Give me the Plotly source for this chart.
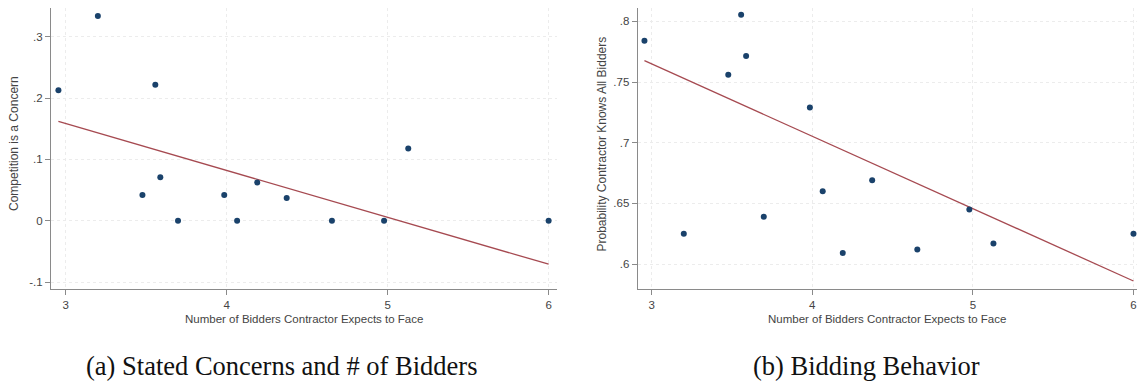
import plotly.graph_objects as go

# Binned means: expected number of bidders (x) against outcomes
bidders = [2.955, 3.20, 3.477, 3.557, 3.588, 3.698, 3.985, 4.065, 4.19, 4.373, 4.654, 4.978, 5.128, 6.0]
concern = [0.213, 0.334, 0.042, 0.222, 0.071, 0.0, 0.042, 0.0, 0.0625, 0.037, 0.0, 0.0, 0.118, 0.0]
knows_all = [0.784, 0.625, 0.756, 0.8055, 0.7715, 0.639, 0.729, 0.660, 0.609, 0.669, 0.612, 0.645, 0.617, 0.625]

# Linear fit endpoints
fit_x = [2.955, 6.0]
fit_concern = [0.162, -0.071]
fit_knows = [0.7676, 0.586]

x_ticks = [3, 4, 5, 6]
x_ticklabels = ["3", "4", "5", "6"]
y1_ticks = [-0.1, 0, 0.1, 0.2, 0.3]
y1_ticklabels = ["-.1", "0", ".1", ".2", ".3"]
y2_ticks = [0.6, 0.65, 0.7, 0.75, 0.8]
y2_ticklabels = [".6", ".65", ".7", ".75", ".8"]

x_title = "Number of Bidders Contractor Expects to Face"
y1_title = "Competition is a Concern"
y2_title = "Probability Contractor Knows All Bidders"
captions = ["(a) Stated Concerns and # of Bidders", "(b) Bidding Behavior"]

W, H = 1137, 385
navy = "#1a426b"
maroon = "#a64a51"
axis_col = "#8a8a8a"
grid_col = "#ececec"
tick_font = dict(family="Liberation Sans, Arial, sans-serif", size=11.5, color="#444444")

fig = go.Figure()
fig.add_trace(go.Scatter(x=fit_x, y=fit_concern, mode="lines",
                         line=dict(color=maroon, width=1.3), xaxis="x", yaxis="y"))
fig.add_trace(go.Scatter(x=bidders, y=concern, mode="markers",
                         marker=dict(color=navy, size=6), xaxis="x", yaxis="y"))
fig.add_trace(go.Scatter(x=fit_x, y=fit_knows, mode="lines",
                         line=dict(color=maroon, width=1.3), xaxis="x2", yaxis="y2"))
fig.add_trace(go.Scatter(x=bidders, y=knows_all, mode="markers",
                         marker=dict(color=navy, size=6), xaxis="x2", yaxis="y2"))

y_dom = [1 - 289 / H, 1 - 8 / H]
common_axis = dict(showline=True, linecolor=axis_col, linewidth=1.2,
                   ticks="outside", ticklen=5, tickcolor=axis_col, tickwidth=1,
                   showgrid=True, gridcolor=grid_col, griddash="dot", gridwidth=1,
                   zeroline=False, tickfont=tick_font, tickmode="array")

fig.update_layout(
    width=W, height=H,
    margin=dict(l=0, r=0, t=0, b=0),
    paper_bgcolor="white", plot_bgcolor="white",
    showlegend=False,
    xaxis=dict(domain=[51 / W, 557 / W], range=[2.909, 6.052],
               tickvals=x_ticks, ticktext=x_ticklabels, anchor="y", **common_axis),
    yaxis=dict(domain=y_dom, range=[-0.1114, 0.347],
               tickvals=y1_ticks, ticktext=y1_ticklabels, anchor="x", **common_axis),
    xaxis2=dict(domain=[637.7 / W, 1.0], range=[2.913, 6.022],
                tickvals=x_ticks, ticktext=x_ticklabels, anchor="y2", **common_axis),
    yaxis2=dict(domain=y_dom, range=[0.5794, 0.811],
                tickvals=y2_ticks, ticktext=y2_ticklabels, anchor="x2", **common_axis),
)

xt_font = dict(family="Liberation Sans, Arial, sans-serif", size=11.5, color="#444444")
yt_font = dict(family="Liberation Sans, Arial, sans-serif", size=12, color="#444444")
ann = [
    dict(text=x_title, x=304 / W, y=1 - 319 / H, xref="paper", yref="paper",
         showarrow=False, font=xt_font, xanchor="center", yanchor="middle"),
    dict(text=x_title, x=887 / W, y=1 - 319 / H, xref="paper", yref="paper",
         showarrow=False, font=xt_font, xanchor="center", yanchor="middle"),
    dict(text=y1_title, x=14 / W, y=1 - 144 / H, xref="paper", yref="paper", textangle=-90,
         showarrow=False, font=yt_font, xanchor="center", yanchor="middle"),
    dict(text=y2_title, x=601.5 / W, y=1 - 144 / H, xref="paper", yref="paper", textangle=-90,
         showarrow=False, font=yt_font, xanchor="center", yanchor="middle"),
]
cap_font = dict(family="Liberation Serif, Times New Roman, serif", size=26.5, color="#111111")
ann.append(dict(text=captions[0], x=282 / W, y=1 - 366 / H, xref="paper", yref="paper",
                showarrow=False, font=cap_font, xanchor="center", yanchor="middle"))
ann.append(dict(text=captions[1], x=866 / W, y=1 - 366 / H, xref="paper", yref="paper",
                showarrow=False, font=cap_font, xanchor="center", yanchor="middle"))
fig.update_layout(annotations=ann)

fig.write_html("out.html")
